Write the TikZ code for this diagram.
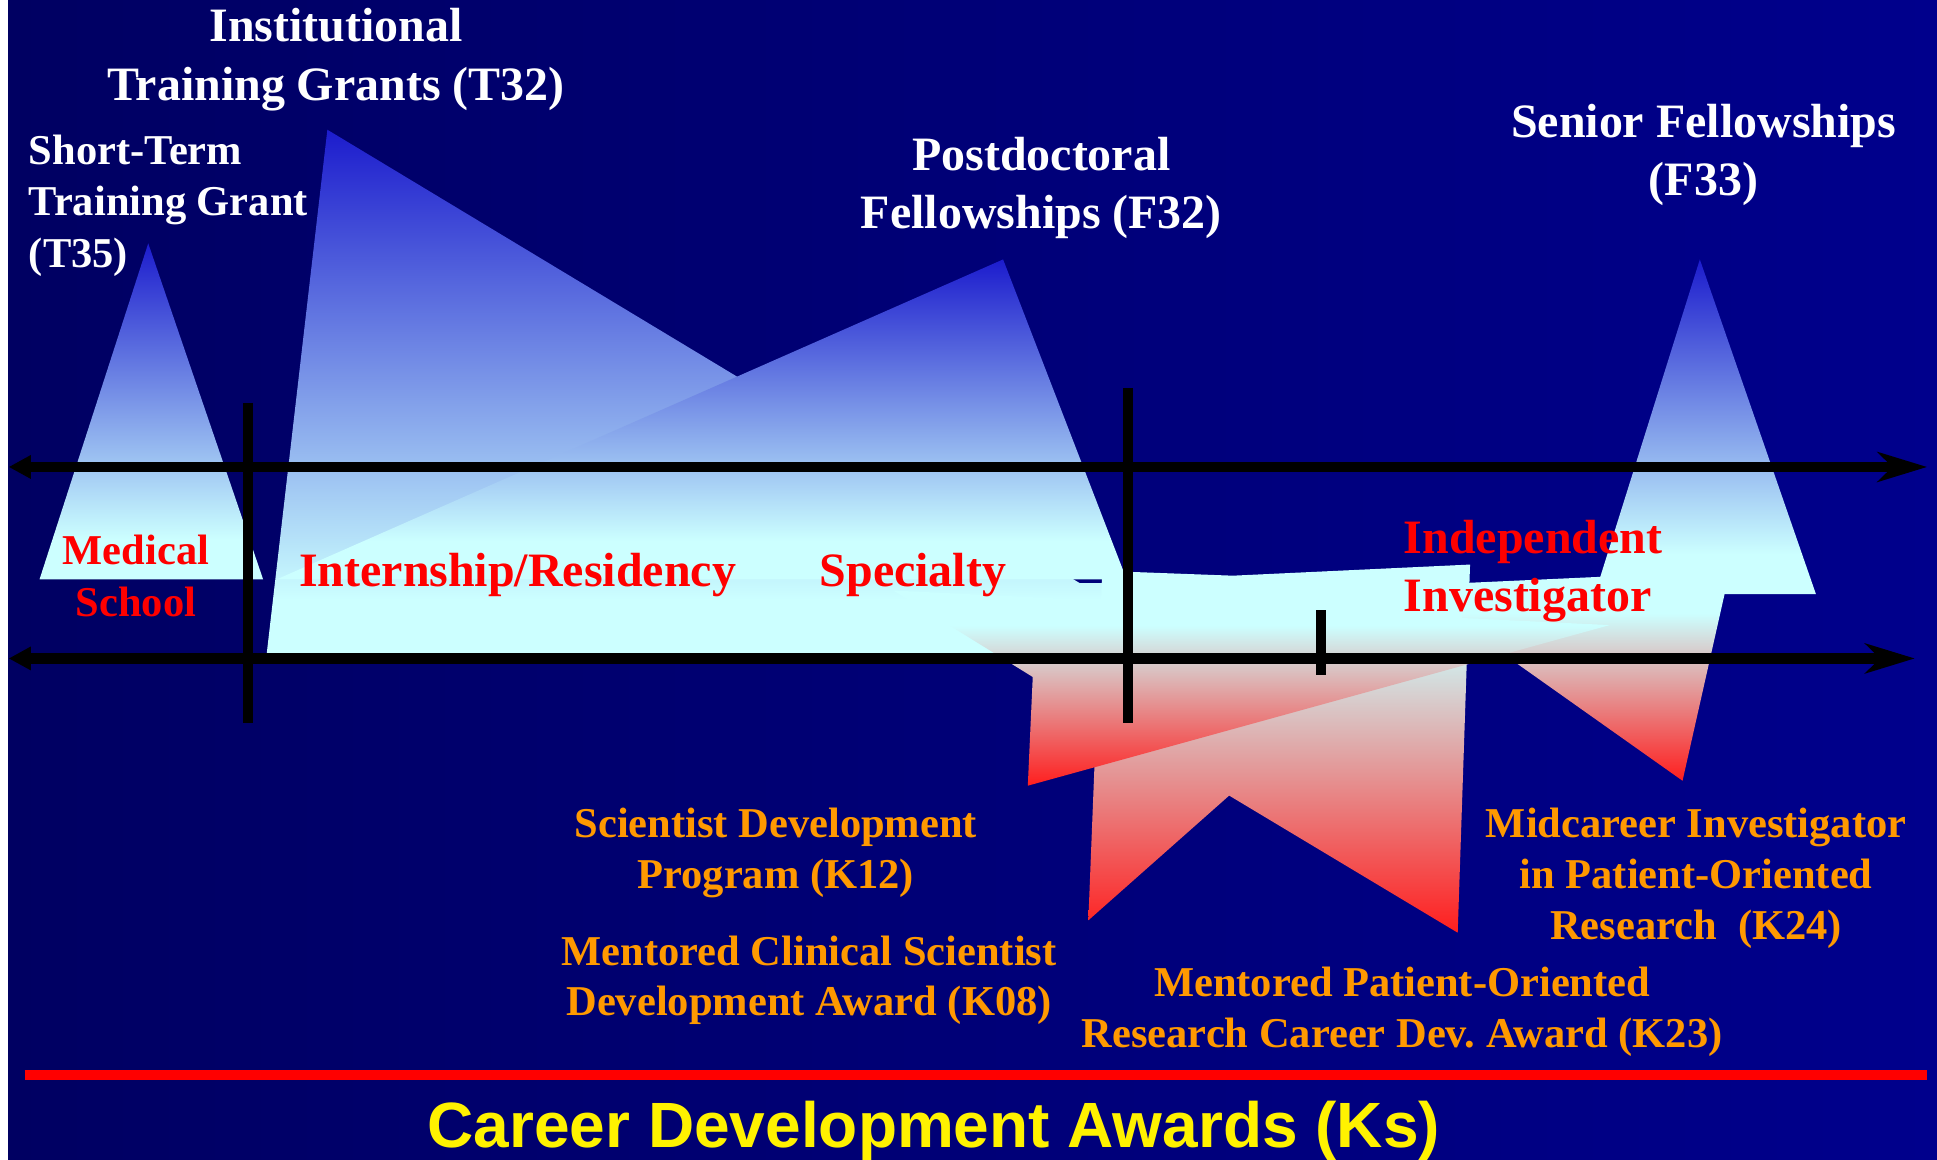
\documentclass[tikz,border=0pt]{standalone}
\usepackage{fontspec}
\setmainfont{Liberation Serif}
\setsansfont{Liberation Sans}
\usetikzlibrary{arrows.meta}

\definecolor{bgdark}{RGB}{0,0,98}
\definecolor{bglight}{RGB}{0,0,140}
\definecolor{lblue}{RGB}{28,28,205}
\definecolor{lcyan}{RGB}{204,255,255}
\definecolor{lred}{RGB}{255,30,30}
\definecolor{korange}{RGB}{255,153,0}

\pgfdeclareverticalshading{skyfade}{100bp}{color(0bp)=(lcyan); color(31bp)=(lcyan); color(75bp)=(lblue); color(100bp)=(lblue)}
\pgfdeclareverticalshading{emberfade}{100bp}{color(0bp)=(lred); color(25bp)=(lred); color(66bp)=(lcyan); color(100bp)=(lcyan)}

\tikzset{
	skyshape/.style={shading=skyfade},
	kshape/.style={shading=emberfade},
	divider/.style={line width=4pt},
	axisline/.style={line width=4.3pt, {Triangle[length=9pt,width=9pt]}-{Stealth[length=20pt,width=12pt,inset=6pt]}},
	grant/.style={text=white, inner sep=0pt, align=center, font=\fontsize{19.4}{23.5}\selectfont\bfseries},
	stagetext/.style={text=red, inner sep=0pt, font=\fontsize{19.4}{23.5}\selectfont\bfseries},
	kaward/.style={text=korange, inner sep=0pt, align=center, font=\fontsize{17.2}{20.6}\selectfont\bfseries}
}

\begin{document}
\begin{tikzpicture}[x=0.5pt,y=-0.5pt]
	\useasboundingbox (0,0) rectangle (1568,939);
	\fill[white] (0,0) rectangle (1568,939);
	\shade[left color=bgdark, right color=bglight] (6.5,0) rectangle (1568,939);

	% training and fellowships
	\shade[skyshape] (265,105) -- (869,469) -- (874,472) -- (893,472) -- (893,500) -- (830,537) -- (215,537) -- cycle;
	\shade[skyshape] (812,210) -- (912,469) -- (224,469) -- cycle;
	\shade[skyshape] (120,197) -- (213,469) -- (32,469) -- cycle;

	% career awards
	\shade[kshape] (892,468) -- (917,463) -- (998,466) -- (1190,457) -- (1180,755) -- (995,644) -- (881,745) -- cycle;
	\shade[kshape] (1184,472) -- (1294,467) -- (1396,470) -- (1396,481) -- (1362,632) -- (1184,506) -- cycle;
	\shade[kshape] (723,478) -- (1303,506) -- (832,636) -- (836,548) -- cycle;
	\shade[skyshape] (1376,210) -- (1470,481) -- (1291,481) -- cycle;

	\coordinate (uL) at (7,378);
	\coordinate (uR) at (1560,378);
	\coordinate (lL) at (7,533);
	\coordinate (lR) at (1550,533);
	\coordinate (m1) at (201,326);
	\coordinate (m2) at (201,585);
	\coordinate (p1) at (913,314);
	\coordinate (p2) at (913,585);
	\coordinate (i1) at (1069,494);
	\coordinate (i2) at (1069,546);
	\coordinate (r1) at (20,870);
	\coordinate (r2) at (1560,870);

	\draw[axisline] (uL) -- (uR);
	\draw[axisline] (lL) -- (lR);
	\draw[divider] (m1) -- (m2);
	\draw[divider] (p1) -- (p2);
	\draw[divider] (i1) -- (i2);
	\draw[red, line width=4pt] (r1) -- (r2);

	\node[grant] (t32) at (272,48.3) {Institutional\\Training Grants (T32)};
	\node[grant, align=left, anchor=west, font=\fontsize{17.2}{20.75}\selectfont\bfseries] (t35) at (23,166.5) {Short-Term\\Training Grant\\(T35)};
	\node[grant] (f32) at (843,151.8) {Postdoctoral\\Fellowships (F32)};
	\node[grant] (f33) at (1379,125.8) {Senior Fellowships\\(F33)};

	\node[stagetext, align=center, font=\fontsize{17.2}{21}\selectfont\bfseries] (med) at (110,466.3) {Medical\\School};
	\node[stagetext, anchor=base] (res) at (419,475) {Internship/Residency};
	\node[stagetext, anchor=base] (spec) at (739,475) {Specialty};
	\node[stagetext, align=left, anchor=west] (indep) at (1136,462.5) {Independent\\Investigator};

	\node[kaward] (k12) at (628,690.4) {Scientist Development\\Program (K12)};
	\node[kaward] (k08) at (655,793.5) {Mentored Clinical Scientist\\Development Award (K08)};
	\node[kaward] (k24) at (1373,711) {Midcareer Investigator\\in Patient-Oriented\\Research\ \ (K24)};
	\node[kaward] (k23) at (1135,819) {Mentored Patient-Oriented\\Research Career Dev.\ Award (K23)};

	\node[text=yellow, inner sep=0pt, anchor=base, font=\sffamily\bfseries\fontsize{25.9}{30}\selectfont] (ks) at (756,928.5) {Career Development Awards (Ks)};
\end{tikzpicture}
\end{document}
